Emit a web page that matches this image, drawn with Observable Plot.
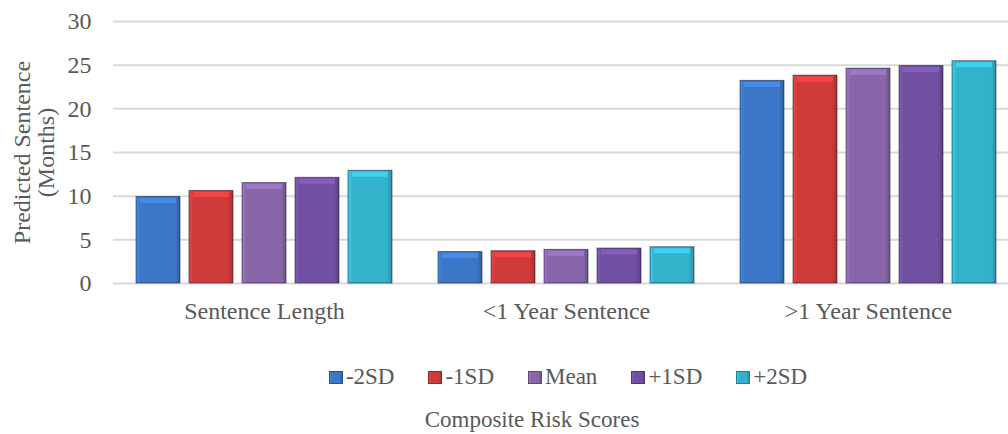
<!DOCTYPE html>
<html>
<head>
<meta charset="utf-8">
<script src="https://cdn.jsdelivr.net/npm/d3@7"></script>
<script src="https://cdn.jsdelivr.net/npm/@observablehq/plot@0.6"></script>
<style>
  html, body { margin: 0; padding: 0; background: #fff; }
  body { width: 1008px; height: 434px; overflow: hidden; font-family: "Liberation Serif", "Times New Roman", serif; color: #595959; }
  #legend { margin-top: 25px; height: 24px; line-height: 24px; font-size: 23px; display: flex; justify-content: center; gap: 34px; padding-left: 128px; }
  #legend .item { display: flex; align-items: center; white-space: nowrap; }
  #legend .sw { width: 14px; height: 13px; margin-right: 3px; box-sizing: border-box; }
  #title { margin-top: 19px; height: 24px; line-height: 24px; font-size: 23px; text-align: center; padding-left: 56px; }
</style>
</head>
<body>
<div id="chart"></div>
<div id="legend"></div>
<div id="title"></div>
<script>
// ---- data ----
const groups = ["Sentence Length", "<1 Year Sentence", ">1 Year Sentence"];
const series = ["-2SD", "-1SD", "Mean", "+1SD", "+2SD"];
const sentenceLength = [9.9, 10.6, 11.5, 12.1, 12.9];
const underOneYear = [3.6, 3.7, 3.85, 4.0, 4.15];
const overOneYear = [23.2, 23.8, 24.6, 24.9, 25.45];
const yTicks = [0, 5, 10, 15, 20, 25, 30];
const colors = ["#3b77c6", "#cf3b3a", "#8767a9", "#7050a0", "#33b2cc"];
const yLabel = "Predicted Sentence\n(Months)";
const xTitle = "Composite Risk Scores";

const valuesByGroup = [sentenceLength, underOneYear, overOneYear];
const table = groups.flatMap((g, gi) =>
  series.map((s, si) => ({
    group: g, series: s, value: valuesByGroup[gi][si],
    paint: `url(#grad${si})`,
    top: d3.color(colors[si]).brighter(0.55).formatHex()
  }))
);

const font = "'Liberation Serif', 'Times New Roman', serif";

const plot = Plot.plot({
  width: 1008,
  height: 340,
  marginTop: 21,
  marginBottom: 57,
  marginLeft: 112,
  marginRight: 0,
  style: {fontFamily: font, fontSize: "24px", color: "#595959", background: "white", overflow: "visible"},
  fx: {domain: groups, range: [112.5, 1018.5], padding: 0, label: null, tickSize: 0, tickPadding: 18},
  x: {domain: series, axis: null, paddingInner: 0.173, paddingOuter: 0.388},
  y: {domain: [0, 30], ticks: yTicks, tickSize: 0, tickPadding: 22, label: null},
  color: {type: "identity"},
  marks: [
    Plot.gridY(yTicks, {stroke: "#d9d9d9", strokeOpacity: 1, strokeWidth: 2}),
    Plot.barY(table, {fx: "group", x: "series", y: "value", fill: "paint", stroke: "rgba(20,20,40,0.55)", strokeWidth: 1}),
    Plot.tickY(table, {fx: "group", x: "series", y: "value", stroke: "top", strokeWidth: 5, dy: 3.5, insetLeft: 4, insetRight: 4, strokeOpacity: 0.8}),
    Plot.text([yLabel], {frameAnchor: "left", textAnchor: "middle", dx: -79, rotate: -90, lineAnchor: "middle", facet: "super", fontSize: 24, fill: "#595959"})
  ]
});

// gradients for a beveled look
const ns = "http://www.w3.org/2000/svg";
const defs = document.createElementNS(ns, "defs");
colors.forEach((c, i) => {
  const base = d3.color(c);
  const light = d3.color(c).brighter(0.45);
  const dark = d3.color(c).darker(0.6);
  const g = document.createElementNS(ns, "linearGradient");
  g.setAttribute("id", `grad${i}`);
  g.setAttribute("x1", "0"); g.setAttribute("x2", "1");
  g.setAttribute("y1", "0"); g.setAttribute("y2", "0");
  [[0, light], [0.1, base], [0.88, base], [1, dark]].forEach(([o, col]) => {
    const st = document.createElementNS(ns, "stop");
    st.setAttribute("offset", o);
    st.setAttribute("stop-color", col.formatHex());
    g.appendChild(st);
  });
  defs.appendChild(g);
});
plot.insertBefore(defs, plot.firstChild);
document.getElementById("chart").appendChild(plot);

// legend
const legend = document.getElementById("legend");
series.forEach((s, i) => {
  const item = document.createElement("div");
  item.className = "item";
  const sw = document.createElement("span");
  sw.className = "sw";
  const c = colors[i];
  sw.style.background = `linear-gradient(to right, ${d3.color(c).brighter(0.4).formatHex()}, ${c} 20%, ${c} 80%, ${d3.color(c).darker(0.6).formatHex()})`;
  sw.style.border = "1px solid " + d3.color(c).darker(1).formatHex();
  const t = document.createElement("span");
  t.textContent = s;
  item.appendChild(sw);
  item.appendChild(t);
  legend.appendChild(item);
});
document.getElementById("title").textContent = xTitle;
</script>
</body>
</html>
